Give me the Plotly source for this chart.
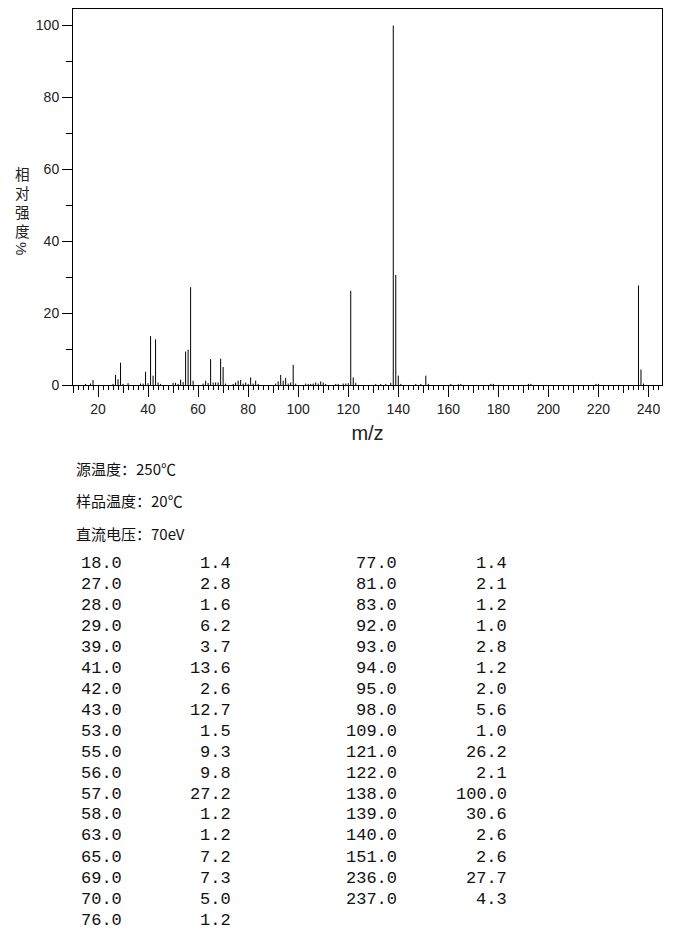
import plotly.graph_objects as go

# ---- data ----
# peaks listed in the table (m/z, relative intensity %)
table_mz = [18, 27, 28, 29, 39, 41, 42, 43, 53, 55, 56, 57, 58, 63, 65, 69, 70, 76,
            77, 81, 83, 92, 93, 94, 95, 98, 109, 121, 122, 138, 139, 140, 151, 236, 237]
table_int = [1.4, 2.8, 1.6, 6.2, 3.7, 13.6, 2.6, 12.7, 1.5, 9.3, 9.8, 27.2, 1.2, 1.2, 7.2, 7.3, 5.0, 1.2,
             1.4, 2.1, 1.2, 1.0, 2.8, 1.2, 2.0, 5.6, 1.0, 26.2, 2.1, 100.0, 30.6, 2.6, 2.6, 27.7, 4.3]

# small peaks visible in the spectrum but not listed (estimated)
minor_mz = [15, 17, 26, 30, 32, 37, 38, 40, 44, 45, 50, 51, 52, 54, 62, 64, 66, 67, 68, 71,
            74, 75, 78, 79, 80, 82, 84, 91, 96, 97, 99, 103, 104, 105, 106, 107, 108, 110, 111,
            115, 116, 118, 119, 120, 123, 131, 133, 135, 137, 141, 147, 149, 152, 161, 164, 165,
            177, 178, 192, 193, 219, 220, 238]
minor_int = [0.3, 0.4, 0.3, 0.3, 0.5, 0.4, 0.4, 0.5, 0.7, 0.3, 0.6, 0.6, 0.3, 0.8, 0.4, 0.6, 0.7, 0.7, 0.7, 0.4,
             0.3, 0.7, 0.4, 0.7, 0.3, 0.4, 0.3, 0.4, 0.4, 0.7, 0.4, 0.4, 0.3, 0.3, 0.4, 0.7, 0.4, 0.7, 0.3,
             0.3, 0.3, 0.4, 0.4, 0.5, 0.6, 0.3, 0.3, 0.3, 0.6, 0.3, 0.3, 0.3, 0.3, 0.3, 0.2, 0.3,
             0.3, 0.3, 0.3, 0.3, 0.3, 0.3, 0.4]

header_lines = ["源温度：250℃", "样品温度：20℃", "直流电压：70eV"]
y_label_chars = ["相", "对", "强", "度"]
y_label_unit = "%"
x_title = "m/z"
x_range = [10, 245.4]
y_range = [0, 104.6]

# ---- layout geometry (pixels, in the reference's page coordinates) ----
OFF = 8  # page body margin added by the html page
W, H = 680 - OFF, 935 - OFF
PLOT_L, PLOT_R, PLOT_T, PLOT_B = 73, 662, 9, 385
L, R = PLOT_L - OFF, W - (PLOT_R - OFF)
T, B = PLOT_T - OFF, H - (PLOT_B - OFF)
PW, PH = W - L - R, H - T - B


def px_x(px):
    return (px - OFF - L) / PW


def px_y(py):
    return (H - B - (py - OFF)) / PH


# ---- stems ----
all_peaks = sorted(zip(table_mz + minor_mz, table_int + minor_int))
xs, ys = [], []
for m, v in all_peaks:
    xs += [m, m, None]
    ys += [0, v, None]

fig = go.Figure()
fig.add_trace(go.Scatter(x=xs, y=ys, mode="lines",
                         line=dict(color="black", width=1),
                         hoverinfo="skip", showlegend=False))
# dummy trace for the overlay axis carrying the medium (every 10) ticks
fig.add_trace(go.Scatter(x=[None], y=[None], xaxis="x2", yaxis="y",
                         mode="markers", showlegend=False, hoverinfo="skip"))

tick_font = dict(family="Liberation Sans, Arial, sans-serif", size=14, color="#222")

fig.update_layout(
    width=W, height=H,
    margin=dict(l=L, r=R, t=T, b=B, pad=0),
    paper_bgcolor="white", plot_bgcolor="white",
    showlegend=False,
    xaxis=dict(range=x_range, showgrid=False, zeroline=False,
               showline=True, linecolor="black", linewidth=1, mirror=True,
               ticks="outside", tick0=0, dtick=20, ticklen=11, tickwidth=1, tickcolor="black",
               minor=dict(ticks="outside", dtick=2, tick0=0, ticklen=4, tickcolor="black", tickwidth=1),
               tickfont=tick_font,
               title=dict(text=x_title, font=dict(family="Liberation Sans, Arial, sans-serif",
                                                  size=20, color="#222"), standoff=10)),
    xaxis2=dict(range=x_range, overlaying="x", anchor="y", side="bottom",
                showgrid=False, zeroline=False, showline=False,
                ticks="outside", tick0=0, dtick=10, ticklen=7, tickwidth=1, tickcolor="black",
                showticklabels=False),
    yaxis=dict(range=y_range, showgrid=False, zeroline=False,
               showline=True, linecolor="black", linewidth=1, mirror=True,
               ticks="outside", tick0=0, dtick=20, ticklen=10, tickwidth=1, tickcolor="black",
               minor=dict(ticks="outside", dtick=10, tick0=0, ticklen=6, tickcolor="black", tickwidth=1),
               tickfont=tick_font),
)

annotations = []
# y label: stacked characters
cjk = "Noto Sans CJK SC"
annotations.append(dict(text="<br>".join(y_label_chars), xref="paper", yref="paper",
                        x=px_x(22), y=px_y(161),
                        xanchor="center", yanchor="top", showarrow=False,
                        font=dict(family=cjk, size=14.6, color="#222")))
annotations.append(dict(text=y_label_unit, xref="paper", yref="paper",
                        x=px_x(22), y=px_y(248), textangle=90,
                        xanchor="center", yanchor="middle", showarrow=False,
                        font=dict(family="Liberation Sans, Arial, sans-serif", size=15, color="#222")))

# header lines
for i, line in enumerate(header_lines):
    annotations.append(dict(text=line, xref="paper", yref="paper",
                            x=px_x(74), y=px_y(468 + 32.5 * i),
                            xanchor="left", yanchor="middle", showarrow=False,
                            font=dict(family=cjk, size=15, color="#111")))

# peak table
mono = dict(family="Liberation Mono, Courier New, monospace", size=17, color="#111")
n_left = 18
cols = [(table_mz[:n_left], table_int[:n_left], 124, 233),
        (table_mz[n_left:], table_int[n_left:], 399, 509)]
for mzs, ints, xm, xi in cols:
    for r, (m, v) in enumerate(zip(mzs, ints)):
        yy = px_y(563 + 21 * r)
        annotations.append(dict(text=f"{m:.1f}", xref="paper", yref="paper",
                                x=px_x(xm), y=yy, xanchor="right", yanchor="middle",
                                showarrow=False, font=mono))
        annotations.append(dict(text=f"{v:.1f}", xref="paper", yref="paper",
                                x=px_x(xi), y=yy, xanchor="right", yanchor="middle",
                                showarrow=False, font=mono))

fig.update_layout(annotations=annotations)
fig.write_html("out.html")
